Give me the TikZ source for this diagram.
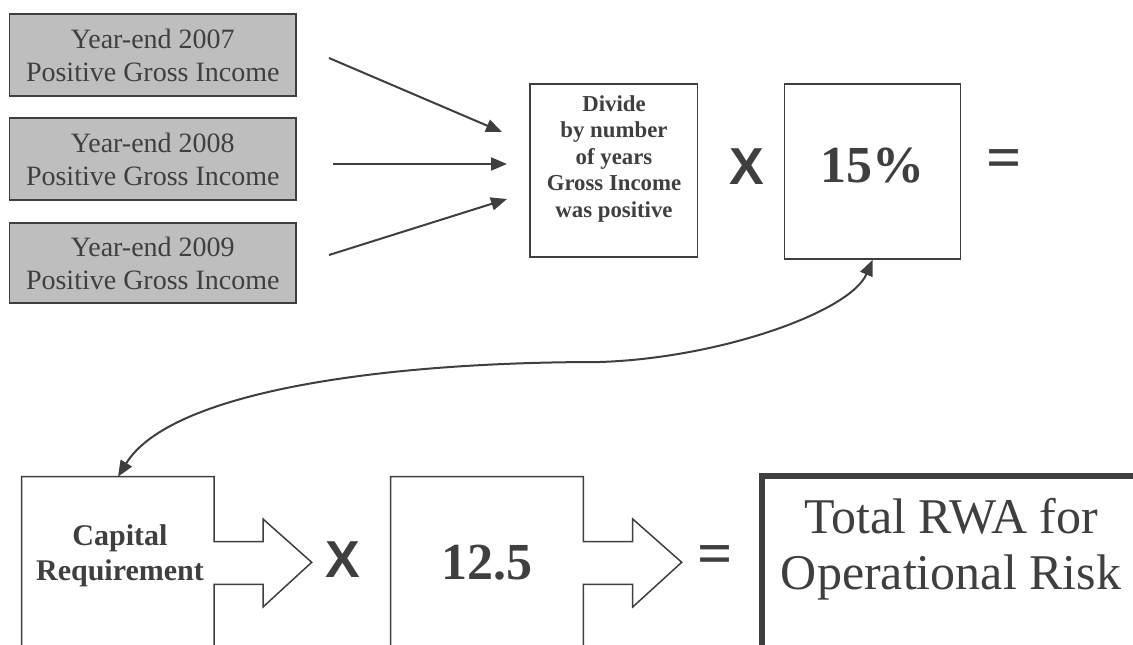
\documentclass[tikz,border=0pt]{standalone}
\usepackage{fontspec}
\setmainfont{Liberation Serif}
\newfontfamily\xsans{Liberation Sans}
\usetikzlibrary{arrows.meta}
\definecolor{ink}{HTML}{3F3F3F}
\definecolor{boxgray}{HTML}{BEBEBE}
\begin{document}
\begin{tikzpicture}[x=1pt,y=-1pt,
  graybox/.style={draw=ink, fill=boxgray, line width=1.5pt, minimum width=286.4pt, inner sep=0pt, text=ink, align=center, font=\fontsize{28}{33}\selectfont},
  plainbox/.style={draw=ink, line width=1.5pt, inner sep=0pt},
  txt/.style={text=ink, inner sep=0pt, align=center},
  inarrow/.style={draw=ink, line width=2pt, -{Triangle[length=16pt,width=13pt]}},
  bigop/.style={text=ink, inner sep=0pt, font=\xsans\bfseries\fontsize{52}{52}\selectfont},
  eqop/.style={text=ink, inner sep=0pt, font=\bfseries\fontsize{62}{62}\selectfont},
  outline/.style={draw=ink, line width=1.5pt, line join=miter}
]
\useasboundingbox (0,0) rectangle (1133,645);
\clip (0,0) rectangle (1133,645);

% grey input boxes
\node[graybox, minimum height=82pt] (g1) at (152.8,55) {Year-end 2007\\Positive Gross Income};
\node[graybox, minimum height=82pt] (g2) at (152.8,159) {Year-end 2008\\Positive Gross Income};
\node[graybox, minimum height=80pt] (g3) at (152.8,263) {Year-end 2009\\Positive Gross Income};

% arrows into divide box
\coordinate (a1s) at (329,58);   \coordinate (a1e) at (502,132);
\coordinate (a2s) at (333,164);  \coordinate (a2e) at (507,164);
\coordinate (a3s) at (329,255);  \coordinate (a3e) at (507,199);
\draw[inarrow] (a1s) -- (a1e);
\draw[inarrow] (a2s) -- (a2e);
\draw[inarrow] (a3s) -- (a3e);

% divide box
\node[plainbox, minimum width=167.5pt, minimum height=173pt] (div) at (613.8,170.5) {};
\node[txt, font=\bfseries\fontsize{22.8}{26.5}\selectfont] (divtxt) at (614,159) {Divide\\by number\\of years\\Gross Income\\was positive};

% X
\node[bigop] (x1) at (747,166.5) {X};

% 15% box
\node[plainbox, minimum width=176pt, minimum height=175pt] (pct) at (872.7,171.5) {};
\node[txt, font=\bfseries\fontsize{52}{52}\selectfont] (pcttxt) at (872.6,166) {15\%};

% =
\node[eqop] (eq1) at (1004,164) {=};

% Capital Requirement box (arrow-callout shape)
\draw[outline] (21.7,660) -- (21.7,476.7) -- (214,476.7) -- (214,541.7) -- (263,541.7) -- (263,519) -- (311.7,562.3) -- (263,607) -- (263,584.3) -- (214,584.3) -- (214,660);
\coordinate (captop) at (118,476.7);
\node[txt, font=\bfseries\fontsize{30}{35}\selectfont] (captxt) at (120,556) {Capital\\Requirement};

% X
\node[bigop] (x2) at (343,560) {X};

% 12.5 box
\draw[outline] (390.7,660) -- (390.7,476.7) -- (583.3,476.7) -- (583.3,541.7) -- (632.7,541.7) -- (632.7,519) -- (681.7,562.3) -- (632.7,607) -- (632.7,584.3) -- (583.3,584.3) -- (583.3,660);
\node[txt, font=\bfseries\fontsize{52}{52}\selectfont] (mult) at (487,562.5) {12.5};

% =
\node[eqop] (eq2) at (715,560.5) {=};

% Total RWA box
\draw[draw=ink, line width=6pt] (762.3,660) -- (762.3,476.3) -- (1145,476.3);
\node[txt, font=\fontsize{50}{56}\selectfont] (rwa) at (951,549) {Total RWA for\\Operational Risk};

% curved double arrow
\coordinate (cmid) at (600,362);
\draw[draw=ink, line width=2pt, {Triangle[length=16pt,width=13pt]}-{Triangle[length=16pt,width=13pt]}]
  (captop) .. controls (170,392) and (380,362) .. (cmid)
  .. controls (720,358) and (850,312) .. (pct.south);
\end{tikzpicture}
\end{document}
